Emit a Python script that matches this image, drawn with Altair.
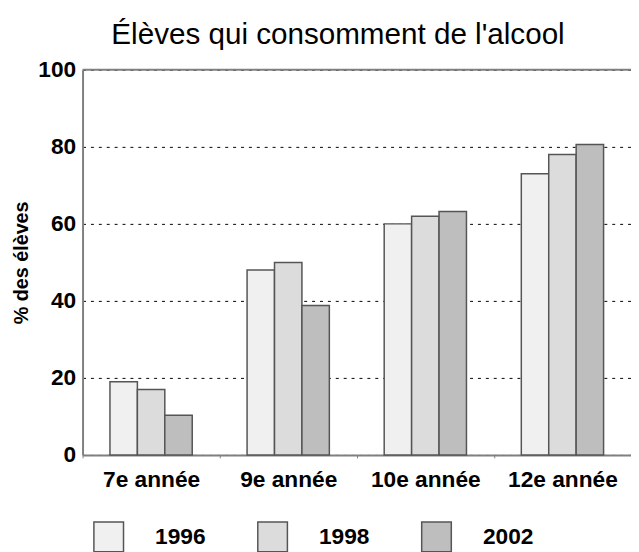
import altair as alt
import pandas as pd

categories = ["7e année", "9e année", "10e année", "12e année"]
years = ["1996", "1998", "2002"]
v1996 = [19, 48, 60, 73]
v1998 = [17, 50, 62, 78]
v2002 = [10.3, 38.8, 63.2, 80.6]
colors = ["#f0f0f0", "#dcdcdc", "#bebebe"]
y_ticks = [0, 20, 40, 60, 80, 100]
top_line = [100]

rows = []
for i, c in enumerate(categories):
    for yr, vals in zip(years, [v1996, v1998, v2002]):
        rows.append({"niveau": c, "annee": yr, "pct": vals[i]})
df = pd.DataFrame(rows)

W = 555.5
H = 390
step = W / (4 - 0.4 + 0.4)
FONT = "Liberation Sans"

bars = alt.Chart(df).mark_bar(stroke="#555555", strokeWidth=1.5).encode(
    x=alt.X(
        "niveau:N",
        sort=categories,
        scale=alt.Scale(paddingInner=0.4, paddingOuter=0.2, align=0.5),
        axis=alt.Axis(
            title=None, labelAngle=0, labelFontSize=23, labelFontWeight="bold",
            labelColor="#000000", labelPadding=11, tickSize=3, tickColor="#808080",
            tickWidth=1, bandPosition=0.5, tickOffset=-step / 2, labelOffset=step / 2,
            domainColor="#808080", domainWidth=2, grid=False,
        ),
    ),
    xOffset=alt.XOffset("annee:N", sort=years, scale=alt.Scale(paddingInner=0, paddingOuter=0)),
    y=alt.Y(
        "pct:Q",
        scale=alt.Scale(domain=[0, 100]),
        axis=alt.Axis(
            values=y_ticks, title="% des élèves", titleFontSize=20, titleFontWeight="bold",
            titleColor="#000000", titlePadding=6, labelFontSize=23, labelFontWeight="bold",
            labelColor="#000000", labelPadding=7, tickSize=0, domainColor="#808080",
            domainWidth=2, grid=True, gridColor="#000000", gridDash=[3, 5], gridWidth=1,
        ),
    ),
    fill=alt.Fill(
        "annee:N",
        sort=years,
        scale=alt.Scale(domain=years, range=colors),
        legend=alt.Legend(
            title=None, orient="none", legendX=10.5, legendY=457, direction="horizontal",
            columns=3, symbolType="square", symbolSize=900, symbolStrokeColor="#555555",
            symbolStrokeWidth=1.5, symbolOpacity=1, labelFontSize=23, labelFontWeight="bold",
            labelColor="#000000", labelOffset=31, columnPadding=49, padding=0,
        ),
    ),
)

rule = alt.Chart(pd.DataFrame({"v": top_line})).mark_rule(color="#808080", strokeWidth=2).encode(
    y=alt.Y("v:Q")
)

chart = alt.layer(bars, rule).properties(
    width=W,
    height=H,
    padding={"left": 75.5, "top": 59, "right": 0, "bottom": 120},
    autosize=alt.AutoSizeParams(type="none"),
    title=alt.TitleParams(
        "Élèves qui consomment de l'alcool", fontSize=30, font=FONT, fontWeight="normal",
        color="#000000", anchor="middle", dx=-19, offset=9,
    ),
).configure(font=FONT).configure_view(stroke=None)

chart.save("out.html", embed_options={"renderer": "svg", "actions": False})
